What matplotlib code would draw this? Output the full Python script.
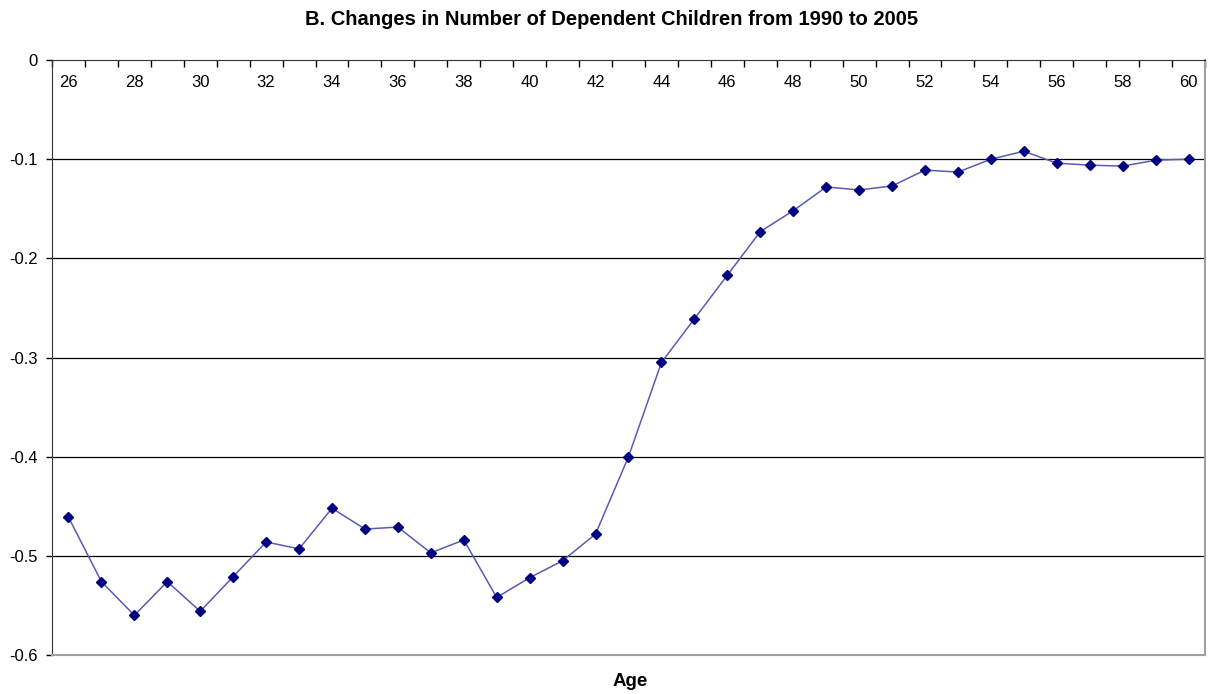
import numpy as np
import matplotlib.pyplot as plt

plt.rcParams['font.family'] = ['Liberation Sans', 'DejaVu Sans']

ages = list(range(26, 61))
changes = [-0.461, -0.526, -0.560, -0.526, -0.556, -0.521, -0.486, -0.493, -0.452, -0.473,
           -0.471, -0.497, -0.484, -0.542, -0.522, -0.505, -0.478, -0.400, -0.305, -0.261,
           -0.217, -0.173, -0.152, -0.128, -0.131, -0.127, -0.111, -0.113, -0.100, -0.092,
           -0.104, -0.106, -0.107, -0.101, -0.100]
y_ticks = [0, -0.1, -0.2, -0.3, -0.4, -0.5, -0.6]
y_labels = ["0", "-0.1", "-0.2", "-0.3", "-0.4", "-0.5", "-0.6"]
x_labels = ages[::2]

fig = plt.figure(figsize=(12.09, 6.94), dpi=100)
ax = fig.add_axes([0.043, 0.0562, 0.9537, 0.8573])

ax.plot(ages, changes, color='#5a5ab4', linewidth=1.1, marker='D', markersize=5.5,
        markerfacecolor='#000080', markeredgecolor='#000080', zorder=3)

ax.set_xlim(25.5, 60.5)
ax.set_ylim(-0.6, 0)

# gridlines
for v in y_ticks[1:-1]:
    ax.axhline(v, color='black', linewidth=0.9, zorder=1)

ax.set_yticks(y_ticks)
ax.set_yticklabels(y_labels, fontsize=12)
ax.tick_params(axis='y', direction='out', length=4, width=1, pad=6)

# category axis sits on top at y=0, ticks between categories
ax.xaxis.tick_top()
ax.set_xticks(np.arange(25.5, 61, 1))
ax.set_xticklabels([])
ax.tick_params(axis='x', direction='in', length=5, width=1)
for a in x_labels:
    ax.text(a, 0.975, str(a), transform=ax.get_xaxis_transform(), ha='center', va='top',
            fontsize=12)

ax.spines['top'].set_color('#333333')
ax.spines['left'].set_color('#333333')
ax.spines['right'].set_color('#a0a0a0')
ax.spines['bottom'].set_color('#a0a0a0')
ax.spines['right'].set_linewidth(1.5)
ax.spines['bottom'].set_linewidth(1.5)

fig.text(0.506, 0.972, "B. Changes in Number of Dependent Children from 1990 to 2005",
         ha='center', va='center', fontsize=14.5, fontweight='bold')
fig.text(0.521, 0.018, "Age", ha='center', va='center', fontsize=13.5, fontweight='bold')

fig.savefig("out.png", dpi=100)
